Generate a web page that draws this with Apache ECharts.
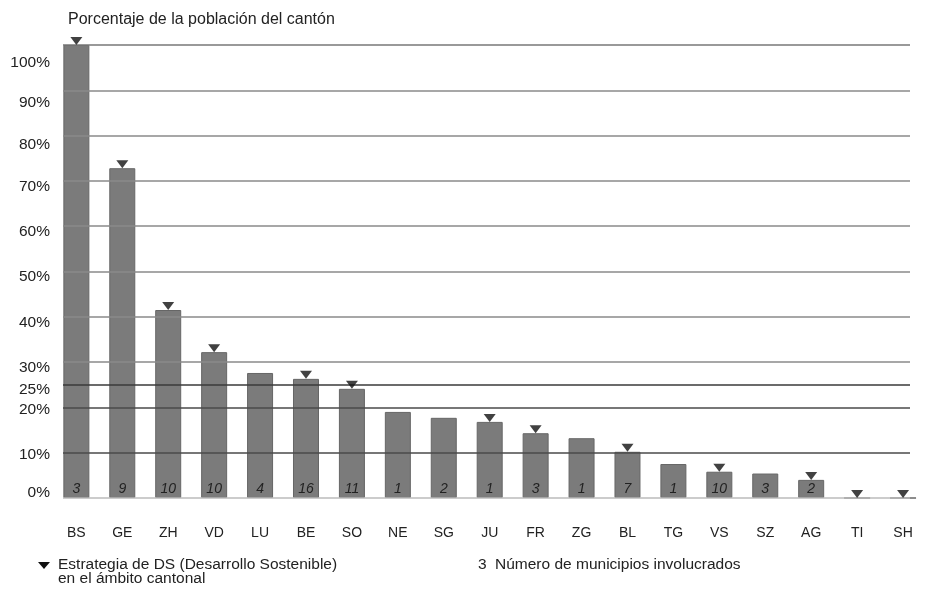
<!DOCTYPE html>
<html>
<head>
<meta charset="utf-8">
<script src="https://cdn.jsdelivr.net/npm/echarts@6/dist/echarts.min.js"></script>
<style>html,body{margin:0;padding:0;background:#fff}#c{width:926px;height:591px}</style>
</head>
<body>
<div id="c"></div>
<script>
const categories = ['BS','GE','ZH','VD','LU','BE','SO','NE','SG','JU','FR','ZG','BL','TG','VS','SZ','AG','TI','SH'];
const shares = [100, 72.8, 41.5, 32.2, 27.6, 26.3, 24.1, 19.0, 17.7, 16.8, 14.3, 13.2, 10.2, 7.5, 5.8, 5.4, 4.0, 0, 0];
const municipalities = [3, 9, 10, 10, 4, 16, 11, 1, 2, 1, 3, 1, 7, 1, 10, 3, 2, null, null];
const strategy = [1,1,1,1,0,1,1,0,0,1,1,0,1,0,1,0,1,1,1];
const extraTick = 25;
const titleText = 'Porcentaje de la población del cantón';
const legendStrategy = ['Estrategia de DS (Desarrollo Sostenible)', 'en el ámbito cantonal'];
const legendNumber = 'Número de municipios involucrados';

const FONT = '"Liberation Sans", Arial, sans-serif';
const chart = echarts.init(document.getElementById('c'), null, {renderer: 'canvas'});
const gridTop = 45, gridBottom = 93;
const tri = 'path://M0,0 L12,0 L6,8 Z';
const LBL = 15.5;

// vertical nudge of the y labels (the original labels sit slightly below their lines)
function shiftStyle(v) {
  if (v === 100) return 'd18';
  if (v === 90) return 'd12';
  if (v === 80) return 'd9';
  if (v >= 30) return 'd6';
  if (v >= 10) return 'd2';
  return 'u5';
}
const rich = {};
[['d18', 36, 0], ['d12', 24, 0], ['d9', 18, 0], ['d6', 11, 0], ['d5', 10, 0], ['d2', 4, 0], ['u5', 0, 10]].forEach(([k, t, b]) => {
  rich[k] = {fontFamily: FONT, fontSize: LBL, color: '#222', padding: [t, 0, b, 0]};
});

chart.setOption({
  animation: false,
  backgroundColor: '#fff',
  title: {
    text: titleText, left: 63, top: 7,
    textStyle: {fontFamily: FONT, fontSize: 16, fontWeight: 'normal', color: '#222'}
  },
  grid: [
    {left: 63, right: 16, top: gridTop, bottom: gridBottom},
    {left: 53.4, width: 878.8, top: gridTop, bottom: gridBottom}
  ],
  xAxis: [
    {gridIndex: 0, type: 'value', min: 0, max: 1, show: false},
    {gridIndex: 1, type: 'category', data: categories,
     axisLine: {show: false}, axisTick: {show: false},
     axisLabel: {margin: 28, fontFamily: FONT, fontSize: 14, color: '#222'}}
  ],
  yAxis: [
    {gridIndex: 0, type: 'value', min: 0, max: 100, interval: 10, z: 5,
     axisLine: {show: false}, axisTick: {show: false},
     axisLabel: {
       margin: 13, fontFamily: FONT, fontSize: LBL, color: '#222',
       formatter: v => '{' + shiftStyle(v) + '|' + v + '%}',
       rich: rich
     },
     splitLine: {show: true, lineStyle: {width: 1.5,
       color: ['#bbbbbb','#4a4a4a','#4a4a4a','#8a8a8a','#8a8a8a','#8a8a8a','#8a8a8a','#8a8a8a','#8a8a8a','#8a8a8a','#777777']}}},
    {gridIndex: 1, type: 'value', min: 0, max: 100, show: false}
  ],
  series: [
    {
      type: 'line', xAxisIndex: 0, yAxisIndex: 0, data: [], z: 6,
      markLine: {
        silent: true, symbol: 'none', animation: false,
        lineStyle: {color: '#3a3a3a', width: 1.5, type: 'solid'},
        label: {show: true, position: 'start', distance: 13, formatter: '{d5|' + extraTick + '%}',
                rich: rich, fontFamily: FONT, fontSize: LBL, color: '#222'},
        data: [{yAxis: extraTick}]
      }
    },
    {
      type: 'bar', xAxisIndex: 1, yAxisIndex: 1, data: shares, barWidth: 26, z: 2,
      itemStyle: {color: '#7b7b7b', borderColor: '#666', borderWidth: 1},
      label: {
        show: true, position: 'insideBottom', distance: 2,
        fontFamily: FONT, fontSize: 14, fontStyle: 'italic', color: '#222',
        formatter: p => municipalities[p.dataIndex] == null ? '' : String(municipalities[p.dataIndex])
      }
    },
    {
      type: 'scatter', xAxisIndex: 1, yAxisIndex: 1, z: 7,
      symbol: tri, symbolSize: [12, 8], symbolOffset: [0, -4],
      itemStyle: {color: '#111'},
      data: shares.map((v, i) => strategy[i] ? v : '-')
    }
  ],
  graphic: [
    {type: 'polygon', shape: {points: [[38, 562], [50, 562], [44, 569]]}, style: {fill: '#111'}},
    {type: 'text', left: 58, top: 557, style: {text: legendStrategy.join('\n'), font: '15.5px ' + FONT, fill: '#222', lineHeight: 14}},
    {type: 'text', left: 478, top: 557, style: {text: '3', font: '15.5px ' + FONT, fill: '#222'}},
    {type: 'text', left: 495, top: 557, style: {text: legendNumber, font: '15.5px ' + FONT, fill: '#222'}}
  ]
});
</script>
</body>
</html>
